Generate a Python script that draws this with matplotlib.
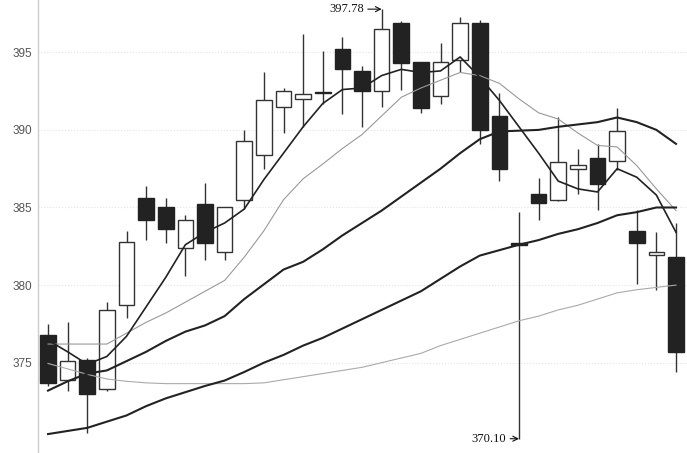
import matplotlib
matplotlib.use("Agg")
import matplotlib.pyplot as plt
import numpy as np

# ---- data ----
opens = [376.8, 373.9, 375.2, 373.3, 378.7, 385.6, 385.0, 382.4, 385.2, 382.1,
         385.5, 388.4, 391.5, 392.0, 392.45, 395.2, 393.8, 392.5, 396.9, 394.4,
         392.2, 394.5, 396.9, 390.9, 382.7, 385.9, 385.5, 387.45, 388.2, 388.0,
         383.5, 381.95, 381.8]
closes = [373.7, 375.1, 373.0, 378.4, 382.8, 384.2, 383.6, 384.2, 382.7, 385.0,
          389.3, 391.9, 392.5, 392.3, 392.35, 393.9, 392.5, 396.5, 394.3, 391.4,
          394.4, 396.9, 390.0, 387.5, 382.6, 385.3, 387.9, 387.75, 386.5, 389.9,
          382.7, 382.15, 375.7]
highs = [377.5, 377.6, 375.3, 378.9, 383.5, 386.4, 385.6, 384.5, 386.6, 385.0,
         390.0, 393.7, 392.7, 396.2, 395.1, 396.0, 394.1, 397.78, 397.0, 394.4,
         395.6, 397.3, 397.1, 392.4, 384.7, 386.9, 390.8, 388.8, 389.1, 391.4,
         384.85, 383.4, 384.0]
lows = [373.5, 373.2, 370.5, 373.2, 377.9, 382.9, 382.7, 380.6, 381.6, 381.6,
        384.9, 387.5, 389.8, 390.2, 391.7, 391.0, 390.2, 391.5, 392.6, 391.1,
        391.7, 393.7, 389.1, 386.7, 370.10, 384.2, 385.4, 385.9, 384.85, 387.4,
        380.1, 379.7, 374.4]

ma5 = [376.45, 375.7, 374.9, 375.4, 376.7, 378.6, 380.5, 382.6, 383.4, 384.0,
       384.9, 386.8, 388.5, 390.2, 391.7, 392.6, 392.7, 393.5, 393.9, 393.7,
       393.8, 394.7, 393.4, 391.9, 390.2, 388.5, 386.7, 386.2, 386.0, 387.5,
       386.95, 385.8, 383.4]
ma10 = [376.2, 376.2, 376.2, 376.2, 376.9, 377.6, 378.2, 378.9, 379.6, 380.3,
        381.8, 383.5, 385.5, 386.85, 387.8, 388.8, 389.7, 390.9, 392.1, 392.7,
        393.2, 393.7, 393.5, 393.0, 392.0, 391.1, 390.7, 389.8, 389.0, 388.9,
        387.7, 386.2, 384.8]
ma20 = [373.2, 373.8, 374.3, 374.5, 375.1, 375.7, 376.4, 377.0, 377.4, 378.0,
        379.1, 380.05, 381.0, 381.5, 382.3, 383.2, 384.0, 384.8, 385.7, 386.6,
        387.5, 388.5, 389.4, 389.9, 389.95, 390.0, 390.2, 390.35, 390.5, 390.8,
        390.5, 390.0, 389.1]
ma30 = [370.4, 370.6, 370.8, 371.2, 371.6, 372.2, 372.7, 373.1, 373.5, 373.85,
        374.4, 375.0, 375.5, 376.1, 376.6, 377.2, 377.8, 378.4, 379.0, 379.6,
        380.4, 381.2, 381.9, 382.25, 382.6, 382.9, 383.3, 383.6, 384.0, 384.5,
        384.7, 385.0, 385.0]
ma60 = [374.95, 374.6, 374.25, 373.95, 373.8, 373.7, 373.65, 373.65, 373.65, 373.65,
        373.65, 373.7, 373.9, 374.1, 374.3, 374.5, 374.7, 375.0, 375.3, 375.6,
        376.1, 376.5, 376.9, 377.3, 377.7, 378.0, 378.4, 378.7, 379.1, 379.5,
        379.7, 379.85, 380.0]

y_ticks = [375, 380, 385, 390, 395]
max_label = "397.78"
min_label = "370.10"

# ---- figure ----
fig = plt.figure(figsize=(6.87, 4.53), dpi=100)
ax = fig.add_axes([38 / 687, 0, 1 - 38 / 687, 1])

x = np.arange(len(opens))
o = np.array(opens); c = np.array(closes)
h = np.array(highs); l = np.array(lows)
up = c >= o
dark = "#222222"

ax.vlines(x, l, h, color="#333333", linewidth=1.0, zorder=2)
bottoms = np.minimum(o, c)
heights = np.maximum(np.abs(c - o), 0.08)
ax.bar(x[up], heights[up], bottom=bottoms[up], width=0.8,
       facecolor="white", edgecolor="#333333", linewidth=1.0, zorder=3)
ax.bar(x[~up], heights[~up], bottom=bottoms[~up], width=0.8,
       facecolor=dark, edgecolor=dark, linewidth=1.0, zorder=3)

ax.plot(x, ma60, color="#aaaaaa", linewidth=0.8, zorder=4)
ax.plot(x, ma10, color="#999999", linewidth=0.8, zorder=4)
ax.plot(x, ma30, color="#222222", linewidth=1.5, zorder=4)
ax.plot(x, ma20, color="#222222", linewidth=1.5, zorder=4)
ax.plot(x, ma5, color="#222222", linewidth=1.2, zorder=4)

imax = int(np.argmax(h)); imin = int(np.argmin(l))
ann_font = dict(family="Liberation Serif", size=9, color="#111111")
ax.annotate(max_label, xy=(imax, h[imax]), xytext=(-18, 0),
            textcoords="offset pixels", ha="right", va="center",
            arrowprops=dict(arrowstyle="->", color="#111111", lw=0.8,
                            shrinkA=1, shrinkB=0), **ann_font)
ax.annotate(min_label, xy=(imin, l[imin]), xytext=(-13, 0),
            textcoords="offset pixels", ha="right", va="center",
            arrowprops=dict(arrowstyle="->", color="#111111", lw=0.8,
                            shrinkA=1, shrinkB=0), **ann_font)

ax.set_xlim(-0.51, 32.56)
ax.set_ylim(369.18, 398.37)
ax.set_yticks(y_ticks)
ax.set_yticklabels([str(v) for v in y_ticks], family="Liberation Sans",
                   fontsize=8.5, color="#555555")
ax.tick_params(axis="y", length=0, pad=4)
ax.set_xticks([])
ax.grid(axis="y", color="#e4e4e4", linestyle=":", linewidth=0.8)
ax.set_axisbelow(True)
for s in ["top", "right", "bottom"]:
    ax.spines[s].set_visible(False)
ax.spines["left"].set_color("#cccccc")
ax.spines["left"].set_linewidth(1.0)

fig.savefig("out.png", dpi=100)
